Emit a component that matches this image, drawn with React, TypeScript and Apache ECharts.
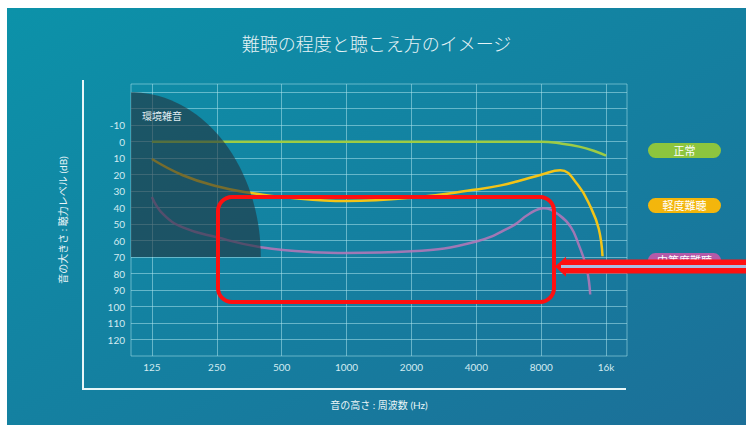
import React, { useEffect, useRef } from "react";
import * as echarts from "echarts";

const TITLE = "難聴の程度と聴こえ方のイメージ";
const X_NAME = "音の高さ : 周波数 (Hz)";
const Y_NAME = "音の大きさ : 聴力レベル (dB)";

const FREQ_MIN = 100;
const FREQ_MAX = 20000;
const FREQ_TICKS = [125, 250, 500, 1000, 2000, 4000, 8000, 16000];
const FREQ_LABELS = ["125", "250", "500", "1000", "2000", "4000", "8000", "16k"];

const DB_MIN = -35;
const DB_MAX = 130;
const DB_LABELS = [-10, 0, 10, 20, 30, 40, 50, 60, 70, 80, 90, 100, 110, 120];
const DB_LINES = [-30, -20, -10, 0, 10, 20, 30, 40, 50, 60, 70, 80, 90, 100, 110, 120];

const SERIES_NAMES = ["正常", "軽度難聴", "中等度難聴"];
const LINE_COLORS = ["#9dcc45", "#f3c417", "#b877b8"];
const PILL_COLORS = ["#8dc53e", "#f3b60c", "#b45aa9"];

const normalHz = [125, 250, 500, 1000, 2000, 4000, 8000, 10000, 12000, 14000, 16000];
const normalDb = [0, 0, 0, 0, 0, 0, 0, 1.2, 3, 5.5, 8.5];

const mildHz = [125, 175, 250, 355, 500, 1000, 2000, 4000, 5200, 6400, 8000, 9800, 11800, 13600, 14800, 15400];
const mildDb = [10.5, 20.5, 27, 31, 33.5, 36, 34, 29, 26.5, 23.5, 20, 17.3, 26, 40, 53, 69.5];

const moderateHz = [125, 141, 174, 250, 400, 700, 1000, 2000, 4000, 5900, 7000, 8200, 9800, 11000, 11900, 13000, 13500];
const moderateDb = [33.5, 44, 52, 58, 64, 67, 67.5, 66.5, 60.5, 51, 44, 40.3, 45, 52, 62, 77, 92.7];

const NOISE_LABEL = "環境雑音";
const noiseHz = [100, 400];
const noiseDb = [-30, 70];

const FONT = "Lato, 'Noto Sans CJK JP', sans-serif";

const oct = (f: number) => Math.log2(f / 125);

export default function App() {
  const ref = useRef<HTMLDivElement>(null);
  useEffect(() => {
    if (!ref.current) return;
    const chart = echarts.init(ref.current, undefined, { renderer: "svg" });

    const lineSeries = [
      [normalHz, normalDb],
      [mildHz, mildDb],
      [moderateHz, moderateDb],
    ].map(([hz, db], i) => ({
      type: "line",
      name: SERIES_NAMES[i],
      data: hz.map((f, k) => [oct(f), db[k]]),
      smooth: 0.45,
      symbol: "none",
      z: 2,
      lineStyle: { color: LINE_COLORS[i], width: 2.5, opacity: i === 2 ? 0.85 : 1 },
    }));

    const noiseSeries = {
      type: "custom",
      z: 5,
      silent: true,
      data: [[oct(noiseHz[0]), oct(noiseHz[1]), noiseDb[0], noiseDb[1]]],
      renderItem: (params: any, api: any) => {
        const p0 = api.coord([api.value(0), api.value(3)]);
        const p1 = api.coord([api.value(1), api.value(2)]);
        const cx = p0[0];
        const cy = p0[1];
        const rx = p1[0] - p0[0];
        const ry = p0[1] - p1[1];
        const pts: number[][] = [[cx, cy]];
        const N = 60;
        for (let i = 0; i <= N; i++) {
          const t = (Math.PI / 2) * (i / N);
          pts.push([cx + rx * Math.sin(t), cy - ry * Math.cos(t)]);
        }
        return {
          type: "group",
          children: [
            { type: "polygon", shape: { points: pts }, style: { fill: "rgba(35,50,60,0.6)" } },
            {
              type: "text",
              x: cx + 11,
              y: p1[1] + 24,
              style: {
                text: NOISE_LABEL,
                fill: "#e2eef2",
                fontSize: 10,
                fontFamily: FONT,
                verticalAlign: "middle",
              },
            },
          ],
        };
      },
    };

    const pills = SERIES_NAMES.map((n, i) => ({
      type: "group",
      z: 10,
      children: [
        {
          type: "rect",
          shape: { x: 641, y: 135 + i * 55, width: 73, height: 15, r: 7.5 },
          style: { fill: PILL_COLORS[i] },
        },
        {
          type: "text",
          x: 677.5,
          y: 142.5 + i * 55,
          style: {
            text: n,
            fill: "#ffffff",
            fontSize: 11,
            fontFamily: FONT,
            align: "center",
            verticalAlign: "middle",
          },
        },
      ],
    }));

    const option: any = {
      animation: false,
      backgroundColor: new echarts.graphic.LinearGradient(0, 0, 1, 1, [
        { offset: 0, color: "#0c92a9" },
        { offset: 1, color: "#1c6f98" },
      ]),
      title: {
        text: TITLE,
        left: "center",
        top: 22,
        textStyle: { color: "#e6f3f6", fontSize: 18, fontWeight: 300, fontFamily: FONT },
      },
      grid: {
        left: 124,
        right: 119,
        top: 76,
        bottom: 69,
        show: true,
        borderColor: "rgba(170,225,235,0.55)",
        borderWidth: 1,
        backgroundColor: "transparent",
      },
      xAxis: {
        type: "value",
        min: oct(FREQ_MIN),
        max: oct(FREQ_MAX),
        name: X_NAME,
        nameLocation: "middle",
        nameGap: 44,
        nameTextStyle: { color: "#eaf5f8", fontSize: 10, fontFamily: FONT },
        axisLine: { show: false },
        axisTick: { show: false, customValues: FREQ_TICKS.map(oct) },
        axisLabel: {
          customValues: FREQ_TICKS.map(oct),
          color: "#d3ebf1",
          fontSize: 10,
          fontFamily: FONT,
          margin: 6,
          formatter: (v: number) => {
            const idx = FREQ_TICKS.findIndex((f) => Math.abs(oct(f) - v) < 1e-6);
            return idx >= 0 ? FREQ_LABELS[idx] : "";
          },
        },
        splitLine: { show: true, lineStyle: { color: "rgba(170,225,235,0.55)", width: 1 } },
      },
      yAxis: {
        type: "value",
        inverse: true,
        min: DB_MIN,
        max: DB_MAX,
        name: Y_NAME,
        nameLocation: "middle",
        nameGap: 63,
        nameTextStyle: { color: "#eaf5f8", fontSize: 10, fontFamily: FONT },
        axisLine: { show: false },
        axisTick: { show: false, customValues: DB_LINES },
        axisLabel: {
          customValues: DB_LABELS,
          color: "#d3ebf1",
          fontSize: 10,
          fontFamily: FONT,
          margin: 6,
        },
        splitLine: { show: true, lineStyle: { color: "rgba(170,225,235,0.55)", width: 1 } },
      },
      series: [...lineSeries, noiseSeries],
      graphic: [
        {
          type: "polyline",
          z: 10,
          shape: { points: [[76, 72], [76, 381], [619, 381]] },
          style: { stroke: "#e8f6f8", lineWidth: 2, fill: "none" },
        },
        ...pills,
        {
          type: "rect",
          z: 20,
          shape: { x: 211, y: 189, width: 336, height: 105, r: 14 },
          style: { stroke: "#ff1010", lineWidth: 4, fill: "none" },
        },
        {
          type: "polygon",
          z: 20,
          shape: {
            points: [
              [548, 258.5],
              [559, 248.7],
              [559, 251.5],
              [739, 251.5],
              [739, 265.5],
              [559, 265.5],
              [559, 268.7],
            ],
          },
          style: { fill: "#ff1010" },
        },
        {
          type: "line",
          z: 21,
          shape: { x1: 554, y1: 258.5, x2: 739, y2: 258.5 },
          style: { stroke: "#a9bde0", lineWidth: 3 },
        },
      ],
    };
    chart.setOption(option);
    return () => chart.dispose();
  }, []);
  return (
    <div
      ref={ref}
      style={{ position: "fixed", left: 7, top: 8, width: 739, height: 417 }}
    />
  );
}
